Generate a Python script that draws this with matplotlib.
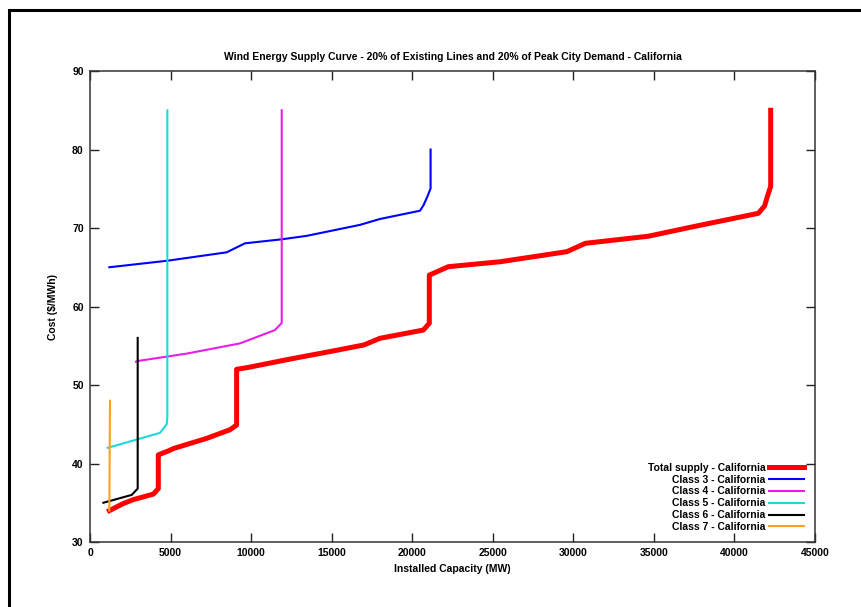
import numpy as np
import matplotlib.pyplot as plt
from matplotlib.patches import Rectangle

plt.rcParams['font.family'] = ['Liberation Sans', 'DejaVu Sans']
plt.rcParams['font.weight'] = 'bold'
plt.rcParams['axes.labelweight'] = 'bold'

# Total supply
total_x = [1200, 2070, 2690, 3930, 4240, 4240, 4860, 5170, 7240, 8690, 9100, 9100, 9720,
           12410, 15000, 17000, 18000, 20690, 21060, 21060, 22240, 25450, 29590, 30750,
           34650, 37450, 41480, 41870, 42040, 42250, 42250]
total_y = [34, 34.9, 35.4, 36.1, 36.8, 41.1, 41.6, 41.9, 43.2, 44.3, 44.9, 52.0, 52.2,
           53.3, 54.3, 55.1, 55.95, 57.0, 57.86, 64.0, 65.07, 65.7, 66.98, 68.05,
           68.95, 70.17, 71.87, 72.8, 74.0, 75.3, 85]

# Class 3
c3_x = [1200, 4800, 8480, 9620, 11900, 13450, 16760, 18000, 20480, 20700, 20940, 21140, 21140]
c3_y = [65.0, 65.83, 66.9, 68.05, 68.56, 69.0, 70.4, 71.15, 72.2, 72.9, 74.0, 75.05, 80.0]

# Class 4
c4_x = [2855, 3100, 6000, 9310, 11480, 11900, 11900]
c4_y = [52.97, 53.1, 54.0, 55.3, 57.0, 57.9, 85]

# Class 5
c5_x = [1100, 4345, 4760, 4800, 4800]
c5_y = [42.0, 43.9, 45.0, 45.8, 85]

# Class 6
c6_x = [830, 2590, 2960, 2960]
c6_y = [35.0, 36.0, 36.8, 56.0]

# Class 7
c7_x = [1200, 1240]
c7_y = [34, 48]

fig = plt.figure(figsize=(8.61, 6.07), dpi=100)
ax = fig.add_axes([90/861, 1-542/607, 725/861, 471/607])

ax.plot(total_x, total_y, color='#ff0000', lw=3.6, label='Total supply - California', solid_joinstyle='round')
ax.plot(c3_x, c3_y, color='#0000ff', lw=1.5, label='Class 3 - California')
ax.plot(c4_x, c4_y, color='#e81ee8', lw=1.5, label='Class 4 - California')
ax.plot(c5_x, c5_y, color='#1ed8d8', lw=1.5, label='Class 5 - California')
ax.plot(c6_x, c6_y, color='#000000', lw=1.5, label='Class 6 - California')
ax.plot(c7_x, c7_y, color='#ffa020', lw=1.5, label='Class 7 - California')

ax.set_xlim(0, 45000)
ax.set_ylim(30, 90)
ax.set_xticks(np.arange(0, 45001, 5000))
ax.set_yticks(np.arange(30, 91, 10))
ax.tick_params(direction='in', length=6.5, width=1.0, top=True, right=True,
               labelsize=7.5, pad=4.5, color='#222222')
for s in ax.spines.values():
    s.set_linewidth(1.1)
    s.set_color('#333333')

ax.set_title('Wind Energy Supply Curve - 20% of Existing Lines and 20% of Peak City Demand - California',
             fontsize=7.5, pad=8, fontweight='bold')
ax.set_xlabel('Installed Capacity (MW)', fontsize=7.5, labelpad=4)
ax.set_ylabel('Cost ($/MWh)', fontsize=7.5, labelpad=10)

ax.legend(loc='lower right', bbox_to_anchor=(0.985, 0.021), frameon=False, markerfirst=False,
          fontsize=7.5, handlelength=3.4, handletextpad=0.3, labelspacing=0.18, borderpad=0,
          borderaxespad=0)

# outer frame, cut off at right and bottom
fig.add_artist(Rectangle((8.5/861, -0.2), 1.2, 1.2 - 9.5/607, transform=fig.transFigure,
                         fill=False, ec='black', lw=2.2))

fig.savefig('out.png', dpi=100)
